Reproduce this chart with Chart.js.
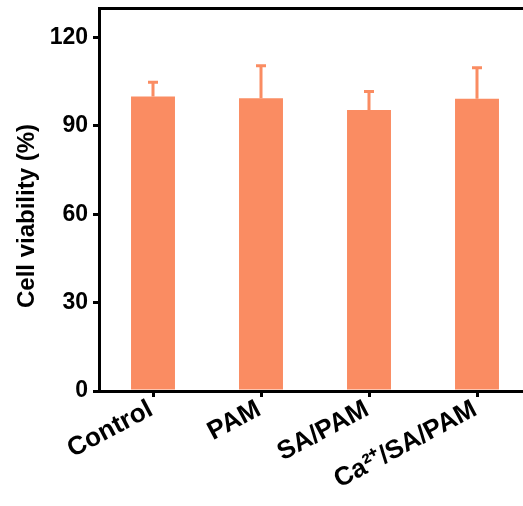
<!DOCTYPE html>
<html>
<head>
<meta charset="utf-8">
<script src="https://cdn.jsdelivr.net/npm/chart.js@4.4.1/dist/chart.umd.min.js"></script>
<style>
  html, body { margin: 0; padding: 0; background: #fff; overflow: hidden; }
  #wrap { width: 540px; height: 506px; }
</style>
</head>
<body>
<div id="wrap"><canvas id="c" width="540" height="506"></canvas></div>
<script>
const categories = ["Control", "PAM", "SA/PAM", "Ca\u00B2\u207A/SA/PAM"];
const viability = [100.0, 99.4, 95.4, 99.2];
const errorUp = [4.8, 11.0, 6.3, 10.5];
const yTicks = [0, 30, 60, 90, 120];
const yTitle = "Cell viability (%)";

const barColor = "rgb(250,140,98)";
const FONT = "Arial, 'Liberation Sans', sans-serif";

const errorBars = {
  id: "errorBars",
  afterDatasetsDraw(chart) {
    const meta = chart.getDatasetMeta(0);
    const ys = chart.scales.y;
    const ctx = chart.ctx;
    ctx.save();
    ctx.strokeStyle = barColor;
    ctx.lineWidth = 3;
    meta.data.forEach((bar, i) => {
      const yTop = ys.getPixelForValue(viability[i] + errorUp[i]);
      ctx.beginPath();
      ctx.moveTo(bar.x, bar.y);
      ctx.lineTo(bar.x, yTop);
      ctx.moveTo(bar.x - 5, yTop);
      ctx.lineTo(bar.x + 5, yTop);
      ctx.stroke();
    });
    ctx.restore();
  }
};

const yTitlePlugin = {
  id: "yTitle",
  afterDraw(chart) {
    const ctx = chart.ctx;
    ctx.save();
    ctx.translate(27, 216);
    ctx.rotate(-Math.PI / 2);
    ctx.font = "bold 24px " + FONT;
    ctx.fillStyle = "#000";
    ctx.textAlign = "center";
    ctx.textBaseline = "middle";
    ctx.fillText(yTitle, 0, 0);
    ctx.restore();
  }
};

new Chart(document.getElementById("c"), {
  type: "bar",
  data: {
    labels: categories,
    datasets: [{
      data: viability,
      backgroundColor: barColor,
      borderWidth: 0,
      barPercentage: 0.407,
      categoryPercentage: 1.0
    }]
  },
  options: {
    responsive: false,
    animation: false,
    devicePixelRatio: 1,
    layout: { padding: { left: 0, right: 9, top: 8, bottom: 0 } },
    plugins: { legend: { display: false }, tooltip: { enabled: false } },
    scales: {
      x: {
        position: "bottom",
        grid: { display: true, offset: false, drawOnChartArea: false, drawTicks: true, tickLength: 6, color: "#000", lineWidth: 3 },
        border: { display: true, color: "#000", width: 3 },
        ticks: {
          color: "#000",
          font: { family: FONT, size: 26, weight: "bold" },
          minRotation: 28, maxRotation: 28,
          padding: -3,
          labelOffset: -2,
          autoSkip: false
        },
        afterFit(scale) { scale.height = 115; scale.paddingLeft = 0; scale.paddingRight = 0; }
      },
      x2: {
        position: "top",
        grid: { display: false, drawTicks: false },
        border: { display: true, color: "#000", width: 3 },
        ticks: { display: false },
        afterFit(scale) { scale.height = 0; }
      },
      y: {
        min: 0,
        max: 130,
        afterBuildTicks(scale) { scale.ticks = yTicks.map(v => ({ value: v })); },
        grid: { display: true, drawOnChartArea: false, drawTicks: true, tickLength: 6, color: "#000", lineWidth: 3 },
        border: { display: true, color: "#000", width: 3 },
        ticks: {
          color: "#000",
          font: { family: FONT, size: 23, weight: "bold" },
          padding: 5
        },
        title: { display: false },
        afterFit(scale) { scale.width = 99; scale.paddingTop = 0; scale.paddingBottom = 0; }
      }
    }
  },
  plugins: [errorBars, yTitlePlugin]
});
</script>
</body>
</html>
